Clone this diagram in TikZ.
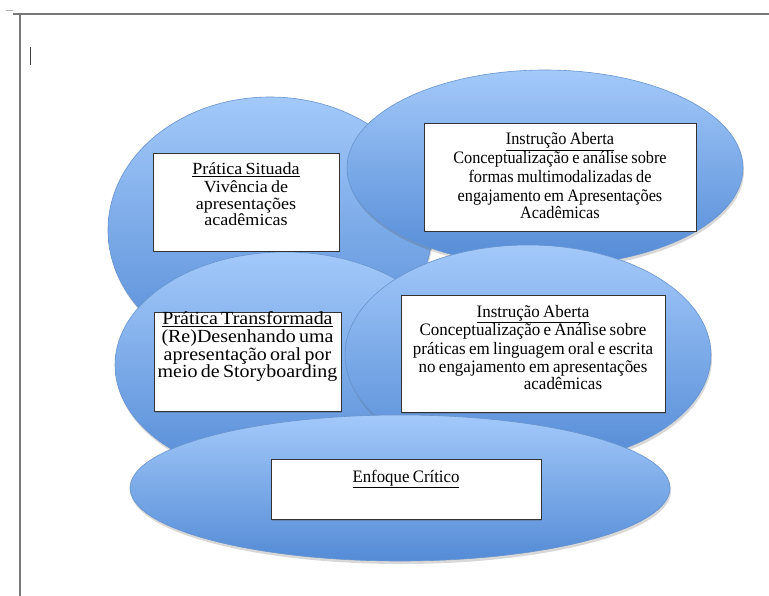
\documentclass[tikz,border=0pt]{standalone}
\usepackage{fontspec}
\setmainfont{Liberation Serif}
\newfontfamily\fontA[FakeStretch=1.06]{Liberation Serif}
\newfontfamily\fontB[FakeStretch=0.93]{Liberation Serif}
\newfontfamily\fontC[FakeStretch=1.08]{Liberation Serif}
\newfontfamily\fontD[FakeStretch=0.97]{Liberation Serif}
\newfontfamily\fontE[FakeStretch=0.96]{Liberation Serif}
\usetikzlibrary{shapes.geometric,shadows}
\definecolor{elltop}{RGB}{163,201,250}
\definecolor{ellbot}{RGB}{84,139,214}
\definecolor{elledge}{RGB}{104,148,206}
\definecolor{framegray}{RGB}{120,120,120}
\tikzset{
  blob/.style 2 args={ellipse, minimum width=#1pt, minimum height=#2pt, inner sep=0pt,
    draw=elledge, line width=0.6pt, top color=elltop, bottom color=ellbot,
    drop shadow={shadow xshift=1pt, shadow yshift=-3pt, opacity=0.22, fill=black!70}},
  textbox/.style 2 args={rectangle, minimum width=#1pt, minimum height=#2pt, inner sep=0pt,
    draw=black!80, line width=0.8pt, fill=white,
    drop shadow={shadow xshift=1pt, shadow yshift=-1.5pt, opacity=0.25, fill=black!70}},
  boxtext/.style={anchor=base, inner sep=0pt, align=center, text width=#1pt},
}
\begin{document}
\begin{tikzpicture}[x=1pt,y=-1pt]
\useasboundingbox (0,0) rectangle (769,596);
% window frame
\draw[framegray, line width=1.2pt] (13,14) -- (769,14);
\draw[framegray, line width=1.2pt] (20,14) -- (20,596);
\draw[black!30, line width=0.6pt] (6,10) -- (13,10);
\draw[black!75, line width=0.9pt] (30,47) -- (30,65);
% ellipses
\node[blob={324}{266}] (ellA) at (270,230) {};
\node[blob={396}{196}] (ellB) at (545,168) {};
\node[blob={340}{226}] (ellC) at (285,365) {};
\node[blob={366}{220}] (ellD) at (528,355) {};
\node[blob={540}{146}] (ellE) at (400,488) {};
% text boxes
\node[textbox={186}{98}] (boxA) at (246,202) {};
\node[textbox={272}{108}] (boxB) at (560,177) {};
\node[textbox={187}{99}] (boxC) at (247.5,361.5) {};
\node[textbox={264}{117}] (boxD) at (533,353.5) {};
\node[textbox={270}{60}] (boxE) at (406,489) {};
% texts
\node[boxtext=186] (txtA) at (246,175)
  {\fontA\fontsize{17}{17.2}\selectfont\underline{Prática Situada}\\Vivência de\\apresentações\\acadêmicas};
\node[boxtext=272] (txtB) at (560,145)
  {\fontB\fontsize{17.5}{18.7}\selectfont\underline{Instrução Aberta}\\Conceptualização e análise sobre\\formas multimodalizadas de\\engajamento em Apresentações\\Acadêmicas};
\node[boxtext=187] (txtC) at (247.5,325)
  {\fontC\fontsize{18.5}{17.6}\selectfont\underline{Prática Transformada}\\(Re)Desenhando uma\\apresentação oral por\\meio de Storyboarding};
\node[boxtext=264] (txtD) at (533,317)
  {\fontD\fontsize{17.5}{18.5}\selectfont\underline{Instrução Aberta}\\Conceptualização e Análise sobre\\práticas em linguagem oral e escrita\\no engajamento em apresentações\\\hspace*{60pt}acadêmicas};
\node[boxtext=270] (txtE) at (406,482)
  {\fontE\fontsize{17.5}{18}\selectfont\underline{Enfoque Crítico}};
\end{tikzpicture}
\end{document}
